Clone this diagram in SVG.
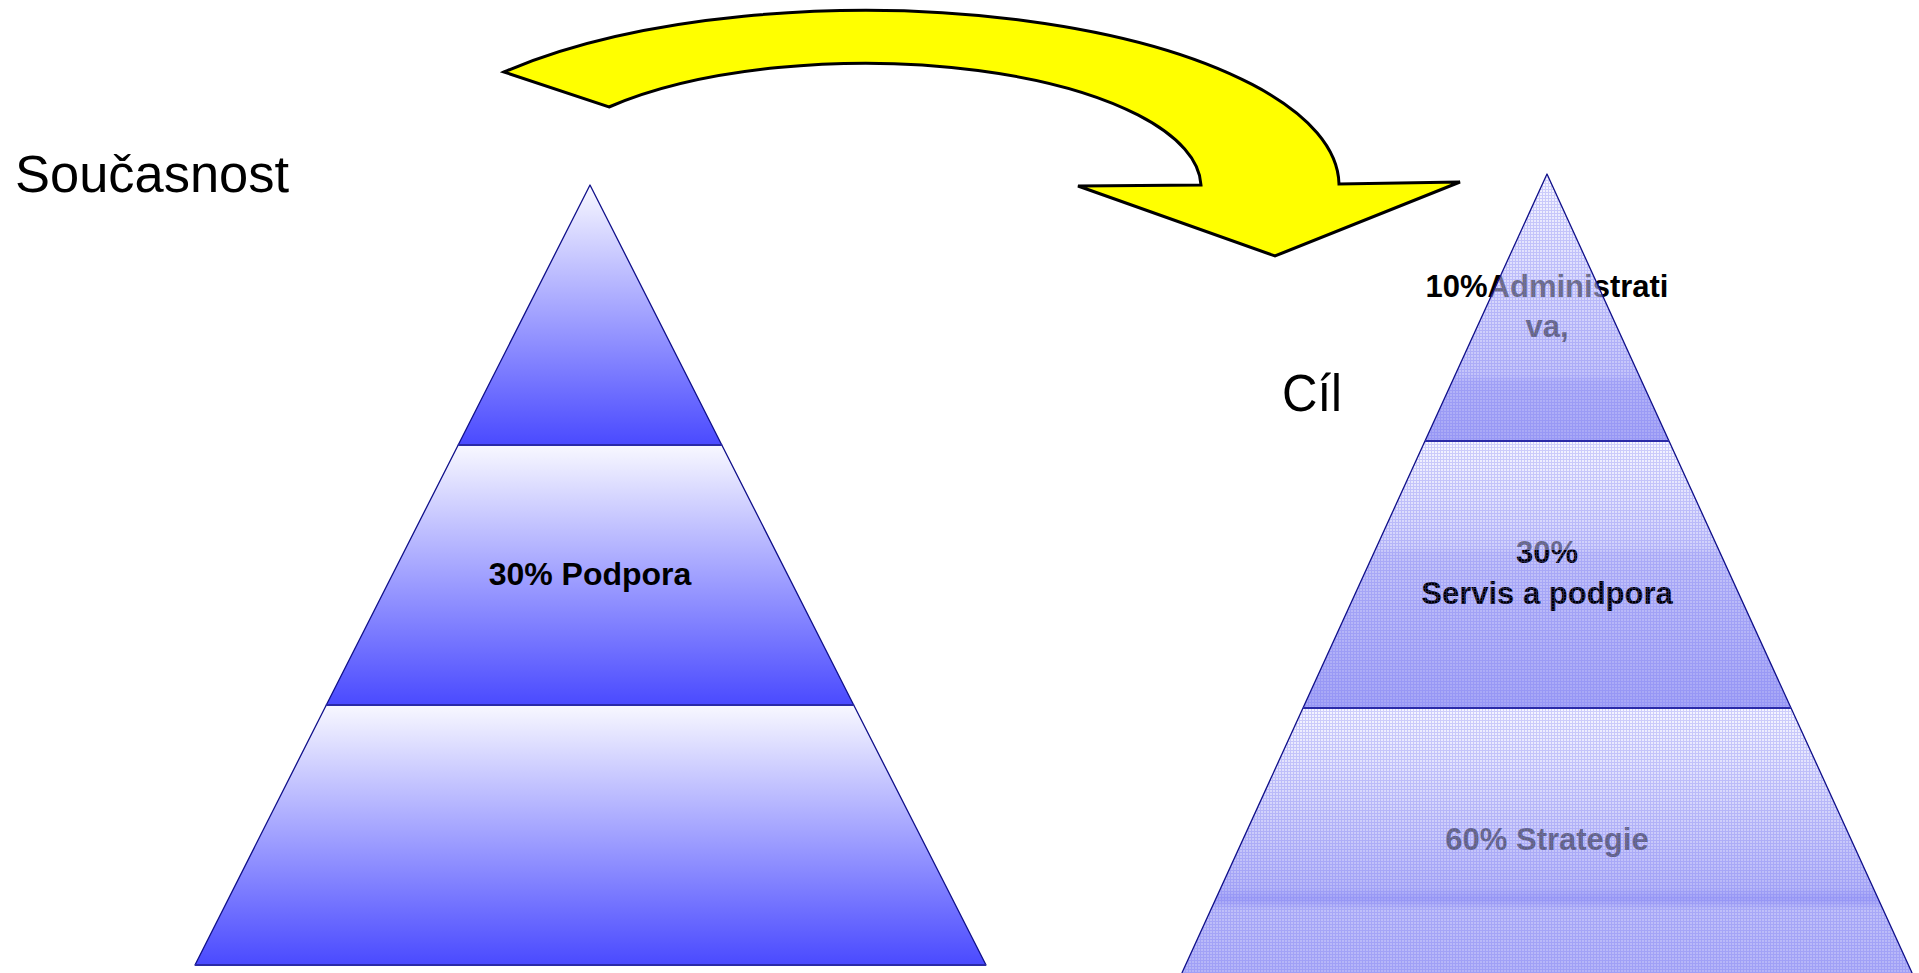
<svg xmlns="http://www.w3.org/2000/svg" width="1919" height="973" viewBox="0 0 1919 973">
<style>
.title{font-family:"Liberation Sans",Arial,sans-serif;font-size:51px;fill:#000}
.lbl{font-family:"Liberation Sans",Arial,sans-serif;font-size:31px;font-weight:bold;fill:#000;text-anchor:middle}
.edge{stroke:#10108a;stroke-width:1.3;stroke-linejoin:round}
.div{stroke:#2a2aa8;stroke-width:2}
</style>
<defs>
<linearGradient id="gL1" gradientUnits="userSpaceOnUse" x1="0" y1="185" x2="0" y2="445"><stop offset="0" stop-color="#f8f8ff"/><stop offset="1" stop-color="#4a4aff"/></linearGradient>
<linearGradient id="gL2" gradientUnits="userSpaceOnUse" x1="0" y1="445" x2="0" y2="705"><stop offset="0" stop-color="#f8f8ff"/><stop offset="1" stop-color="#4a4aff"/></linearGradient>
<linearGradient id="gL3" gradientUnits="userSpaceOnUse" x1="0" y1="705" x2="0" y2="965"><stop offset="0" stop-color="#f8f8ff"/><stop offset="1" stop-color="#4a4aff"/></linearGradient>
<linearGradient id="gR1" gradientUnits="userSpaceOnUse" x1="0" y1="174" x2="0" y2="441"><stop offset="0" stop-color="#f6f6ff"/><stop offset="0.75" stop-color="#c4c4fa"/><stop offset="0.78" stop-color="#b4b4f8"/><stop offset="1" stop-color="#a8a8f6"/></linearGradient>
<linearGradient id="gR2" gradientUnits="userSpaceOnUse" x1="0" y1="441" x2="0" y2="708"><stop offset="0" stop-color="#f6f6ff"/><stop offset="0.4" stop-color="#d0d0fb"/><stop offset="0.42" stop-color="#c4c4f9"/><stop offset="1" stop-color="#a6a6f6"/></linearGradient>
<linearGradient id="gR3" gradientUnits="userSpaceOnUse" x1="0" y1="708" x2="0" y2="973"><stop offset="0" stop-color="#f6f6ff"/><stop offset="0.68" stop-color="#b8b8f8"/><stop offset="0.72" stop-color="#a4a4f6"/><stop offset="0.76" stop-color="#c0c0f9"/><stop offset="1" stop-color="#b4b4f8"/></linearGradient>
<pattern id="grid" patternUnits="userSpaceOnUse" width="3" height="3">
<rect x="0" y="0" width="3" height="1" fill="#6666f0" fill-opacity="0.28"/>
<rect x="0" y="1" width="1" height="2" fill="#6666f0" fill-opacity="0.28"/>
</pattern>
</defs>

<g id="label-soucasnost"><text class="title" x="15" y="192" textLength="274" lengthAdjust="spacingAndGlyphs">Současnost</text></g>
<g id="label-cil"><text class="title" x="1282" y="411" textLength="60" lengthAdjust="spacingAndGlyphs">Cíl</text></g>

<g id="left-pyramid">
<g id="left-top"><polygon points="590,185 721.8,445 458.2,445" class="edge" style="fill:url(#gL1)"/></g>
<g id="left-middle"><polygon points="458.2,445 721.8,445 853.7,705 326.3,705" class="edge" style="fill:url(#gL2)"/>
<text class="lbl" x="590" y="585" style="font-size:32px">30% Podpora</text></g>
<g id="left-bottom"><polygon points="326.3,705 853.7,705 986,965 195,965" class="edge" style="fill:url(#gL3)"/></g>
<line class="div" x1="458.2" y1="445" x2="721.8" y2="445"/>
<line class="div" x1="326.3" y1="705" x2="853.7" y2="705"/>
<line class="div" x1="195" y1="965" x2="986" y2="965"/>
</g>

<g id="right-pyramid">
<g id="right-top"><polygon points="1547,174 1669,441 1425,441" fill="url(#gR1)"/>
<text class="lbl" x="1547" y="297">10%Administrati</text>
<text class="lbl" x="1547" y="337">va,</text>
<polygon points="1547,174 1637.9,373 1456.1,373" fill="url(#gR1)" fill-opacity="0.5"/></g>
<g id="right-middle"><polygon points="1425,441 1669,441 1791,708 1303,708" fill="url(#gR2)"/>
<text class="lbl" x="1547" y="563">30%</text>
<text class="lbl" x="1547" y="604">Servis a podpora</text>
<polygon points="1425,441 1669,441 1718.8,550 1375.2,550" fill="url(#gR2)" fill-opacity="0.5"/></g>
<g id="right-bottom"><polygon points="1303,708 1791,708 1912.1,973 1181.9,973" fill="url(#gR3)"/>
<text class="lbl" x="1547" y="850">60% Strategie</text>
<polygon points="1303,708 1791,708 1878.8,900 1215.2,900" fill="url(#gR3)" fill-opacity="0.5"/></g>
<polygon points="1547,174 1912.1,973 1181.9,973" fill="url(#grid)"/>
<polyline class="edge" points="1181.9,973 1547,174 1912.1,973" fill="none"/>
<line class="div" x1="1425" y1="441" x2="1669" y2="441"/>
<line class="div" x1="1303" y1="708" x2="1791" y2="708"/>
</g>

<g id="connectors">
<path id="curved-arrow" d="M504,72 A474,175 0 0 1 1339,184 L1460,182 L1275,256 L1078,186 L1201,185 A336,124 0 0 0 609,107 Z" fill="#ffff00" stroke="#000" stroke-width="3" stroke-linejoin="miter"/>
</g>
</svg>
